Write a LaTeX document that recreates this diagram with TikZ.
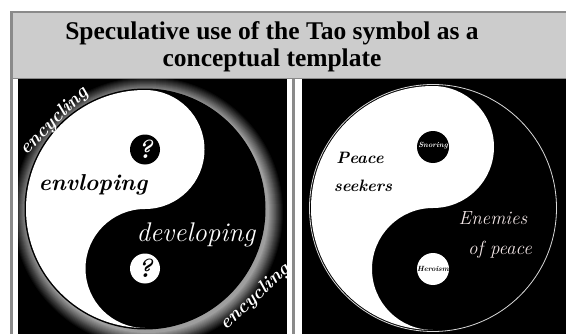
\documentclass[tikz,border=0pt]{standalone}
\usepackage{fontspec}
\newfontfamily\titlefont{Liberation Serif}
\definecolor{framegray}{HTML}{8A8A8A}
\definecolor{titlegray}{HTML}{CCCCCC}
\definecolor{paleink}{HTML}{F2E6E6}
\tikzset{
  scr/.style={font=\itshape\fontsize{#1}{#1}\selectfont, inner sep=0pt},
  scrb/.style={font=\bfseries\itshape\fontsize{#1}{#1}\selectfont, inner sep=0pt},
}
\begin{document}
\begin{tikzpicture}[x=1pt,y=1pt]
\useasboundingbox (0,0) rectangle (566,333);
\clip (0,0) rectangle (566,333);
% frame
\fill[white] (0,0) rectangle (566,333);
\fill[framegray] (10,-5) rectangle (575,322);
\fill[titlegray] (13,255) rectangle (575,320);
\fill[white] (13,-5) rectangle (291.7,253.7);
\fill[white] (295,-5) rectangle (575,253.7);
\fill[black] (18.3,-5) rectangle (286.7,253.7);
\fill[black] (301.7,-5) rectangle (575,253.7);
\node[font=\titlefont\bfseries\fontsize{25.5}{27.4}\selectfont, align=center, inner sep=0pt] (ttl) at (272,286) {Speculative use of the Tao symbol as a\\conceptual template};
% left yin-yang
\begin{scope}
\clip (18.3,-5) rectangle (286.7,253.7);
\foreach \i in {16,...,2} {
  \pgfmathsetmacro\g{int(62*(17-\i)/15)}
  \fill[white!\g!black] (148,121) circle[radius={119pt+\i pt}];
}
\fill[black] (145,124) circle[radius=120.5pt];
\fill[white] (145,243) arc[start angle=90, end angle=270, radius=119pt]
  arc[start angle=270, end angle=90, radius=59.5pt]
  arc[start angle=-90, end angle=90, radius=59.5pt] -- cycle;
\fill[black] (145,183.5) circle[radius=15pt];
\fill[white] (145,64.5) circle[radius=15pt];
\end{scope}
\node[scrb=26, text=white] (lq1) at (145,183.5) {?};
\node[scrb=26, text=black] (lq2) at (145,64.5) {?};
\node[scrb=19, text=white, rotate=45] (enc1) at (54,212) {encycling};
\node[scrb=23, text=black] (env) at (93,148) {envloping};
\node[scr=27, text=white] (dev) at (196,98) {developing};
\node[scrb=19, text=white, rotate=43] (enc2) at (255,36) {encycling};
% right yin-yang
\begin{scope}
\clip (301.7,-5) rectangle (575,253.7);
\draw[white!85!black, line width=0.8pt] (433,125) circle[radius=123.5pt];
\fill[white] (433,247) arc[start angle=90, end angle=270, radius=122pt]
  arc[start angle=270, end angle=90, radius=61pt]
  arc[start angle=-90, end angle=90, radius=61pt] -- cycle;
\fill[black] (433,186) circle[radius=16pt];
\fill[white] (433,64) circle[radius=16pt];
\end{scope}
\node[scrb=16.5, text=black] (peace) at (360,175) {Peace};
\node[scrb=16.5, text=black] (seek) at (363,147) {seekers};
\node[scr=19, text=paleink] (enem) at (493,115) {Enemies};
\node[scr=19, text=paleink] (ofp) at (500,83) {of peace};
\node[scrb=7.5, text=white] (snor) at (433,187) {Snoring};
\node[scrb=7.5, text=black] (hero) at (433,64) {Heroism};
\end{tikzpicture}
\end{document}
